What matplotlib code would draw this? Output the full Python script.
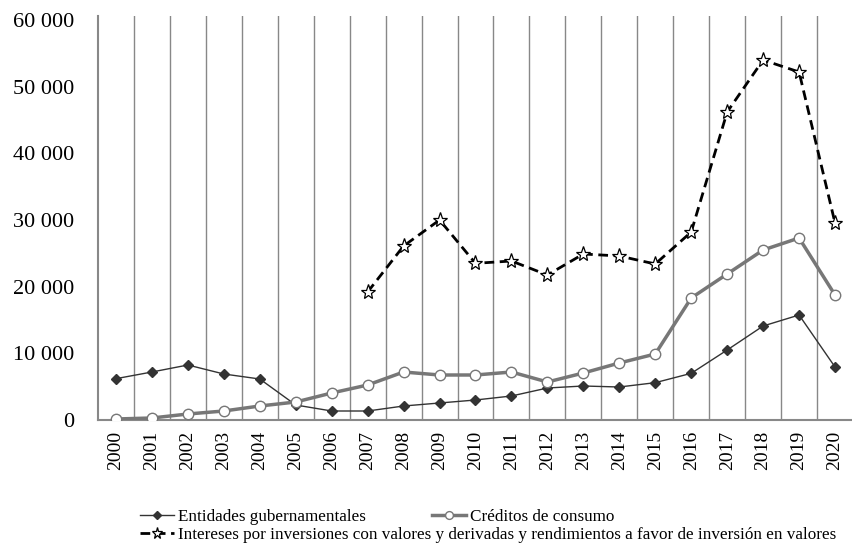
import matplotlib.pyplot as plt
import numpy as np

plt.rcParams['font.family'] = ['Liberation Serif', 'DejaVu Serif']

years = [str(y) for y in range(2000, 2021)]

entidades = [6200, 7200, 8250, 6900, 6150, 2250, 1350, 1350, 2100, 2550, 3000,
             3600, 4800, 5100, 4950, 5600, 7000, 10500, 14100, 15750, 7950]
creditos = [150, 300, 900, 1350, 2100, 2700, 4050, 5250, 7200, 6750, 6750,
            7200, 5700, 7050, 8550, 9900, 18300, 21900, 25500, 27300, 18750]
# serie que empieza en 2007
intereses = [np.nan] * 7 + [19200, 26100, 30000, 23500, 23850, 21750, 24900,
                            24600, 23400, 28200, 46200, 54000, 52200, 29550]

y_ticks = [0, 10000, 20000, 30000, 40000, 50000, 60000]
y_labels = ['0', '10 000', '20 000', '30 000', '40 000', '50 000', '60 000']

labels = ['Entidades gubernamentales', 'Créditos de consumo',
          'Intereses por inversiones con valores y derivadas y rendimientos a favor de inversión en valores']

fig = plt.figure(figsize=(8.53, 5.45), dpi=100)
ax = fig.add_axes([98/853, 1 - 420/545, 1 - 98/853, 404/545])

x = np.arange(len(years))
l1, = ax.plot(x, entidades, color='#333333', lw=1, marker='D', ms=5.5,
              markerfacecolor='#333333', markeredgecolor='#333333', zorder=3)
l2, = ax.plot(x, creditos, color='#777777', lw=2.5, marker='o', ms=7.5,
              markerfacecolor='white', markeredgecolor='#777777', zorder=3)
l3, = ax.plot(x, intereses, color='black', lw=2, ls=(0, (3.5, 2)), marker='*', ms=11,
              markerfacecolor='white', markeredgecolor='black', markeredgewidth=0.9,
              zorder=4)

ax.set_xlim(-0.5, len(years) - 0.5)
ax.set_ylim(0, 60600)
ax.set_xticks(x)
ax.set_xticklabels(years, rotation=90, fontsize=14)
ax.set_xticks(np.arange(0.5, len(years) - 1, 1), minor=True)
ax.grid(True, which='minor', axis='x', color='#888888', lw=1)
ax.tick_params(axis='x', which='both', length=0, pad=8)
ax.set_yticks(y_ticks)
ax.set_yticklabels(y_labels, fontsize=16)
ax.tick_params(axis='y', length=0, pad=17)

for s in ['top', 'right']:
    ax.spines[s].set_visible(False)
for s in ['left', 'bottom']:
    ax.spines[s].set_color('#888888')
    ax.spines[s].set_linewidth(1.5)

fig.legend([l1, l2], labels[:2], loc='center left', ncol=2,
           bbox_to_anchor=(140/853, 1 - 517/545), frameon=False,
           fontsize=12.3, handlelength=2.0, columnspacing=3.9,
           handletextpad=0.2, borderaxespad=0, borderpad=0, markerscale=0.75)
fig.legend([l3], labels[2:], loc='center left',
           bbox_to_anchor=(140/853, 1 - 535/545), frameon=False,
           fontsize=12.3, handlelength=2.0, handletextpad=0.2,
           borderaxespad=0, borderpad=0, markerscale=0.75)

fig.savefig('out.png', dpi=100)
